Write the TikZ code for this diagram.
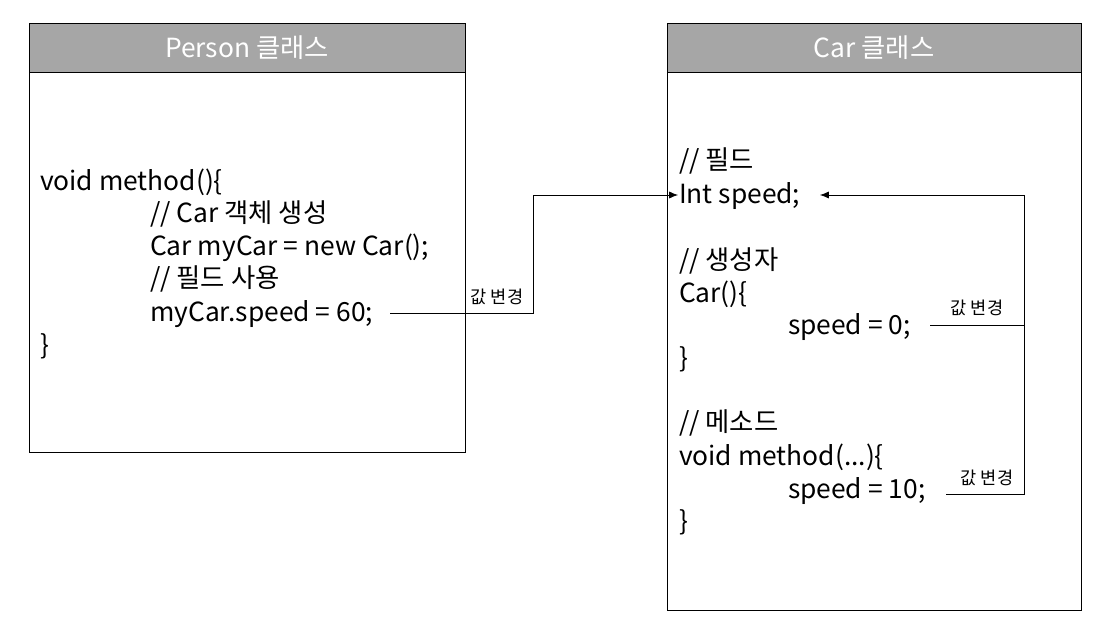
\documentclass[tikz,border=0pt]{standalone}
\usepackage{fontspec}
\setmainfont{Noto Sans CJK KR}
\usetikzlibrary{arrows.meta}
\definecolor{headgray}{HTML}{A6A6A6}
\tikzset{
  code/.style={anchor=base west, inner sep=1pt, font=\fontsize{15}{18}\selectfont},
  head/.style={draw, fill=headgray, text=white, font=\fontsize{15}{18}\selectfont},
  tag/.style={inner sep=1pt, font=\fontsize{10}{12}\selectfont},
  line/.style={draw, -{Latex[length=5pt,width=4pt]}}
}
\begin{document}
\begin{tikzpicture}[x=0.02cm, y=-0.02cm]
    \useasboundingbox (0,0) rectangle (1102,642);
    % Boxes
    \draw (29,23) rectangle (465,452);
    \draw[head] (29,23) rectangle (465,72);
    \node[font=\fontsize{15}{18}\selectfont, text=white] (phead) at (247,48) {Person 클래스};
    \draw (667,23) rectangle (1081,610);
    \draw[head] (667,23) rectangle (1081,72);
    \node[font=\fontsize{15}{18}\selectfont, text=white] (chead) at (874,48) {Car 클래스};
    % Person code
    \node[code] (pm) at (38,190) {void method()\{};
    \node[code] (pc1) at (148,222) {// Car 객체 생성};
    \node[code] (pnew) at (148,255) {Car myCar = new Car();};
    \node[code] (pc2) at (148,287) {// 필드 사용};
    \node[code] (pset) at (148,321) {myCar.speed = 60;};
    \node[code] (pend) at (38,354) {\}};
    % Car code
    \node[code] (cc1) at (677,170) {// 필드};
    \node[code] (cfield) at (677,203) {Int speed;};
    \node[code] (cc2) at (677,269) {// 생성자};
    \node[code] (cctor) at (677,302) {Car()\{};
    \node[code] (cset0) at (786,334) {speed = 0;};
    \node[code] (cend1) at (677,367) {\}};
    \node[code] (cc3) at (677,431) {// 메소드};
    \node[code] (cmeth) at (677,465) {void method(...)\{};
    \node[code] (cset10) at (786,498) {speed = 10;};
    \node[code] (cend2) at (677,530) {\}};
    % Edges
    \coordinate (a1) at (533,313);
    \coordinate (a2) at (533,195);
    \coordinate (fin) at (678,195);
    \coordinate (r0) at (1024,325);
    \coordinate (r1) at (1024,494);
    \coordinate (rt) at (1024,195);
    \coordinate (rin) at (820,195);
    \path[line] (390,313) -- (a1) -- (a2) -- (fin);
    \draw (930,325) -- (r0);
    \draw (946,494) -- (r1) -- (rt);
    \path[line] (rt) -- (rin);
    \node[tag] (t1) at (497,297) {값 변경};
    \node[tag] (t2) at (977,308) {값 변경};
    \node[tag] (t3) at (987,478) {값 변경};
\end{tikzpicture}
\end{document}
